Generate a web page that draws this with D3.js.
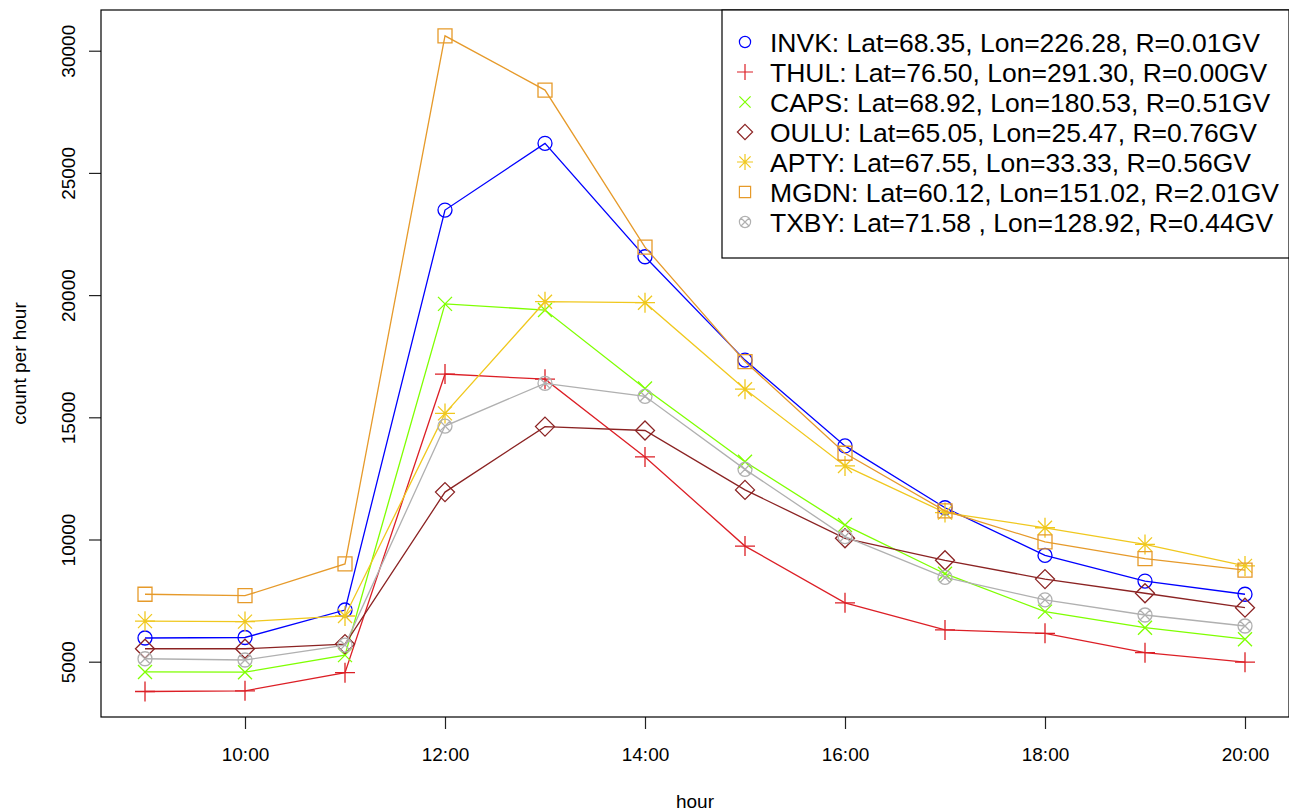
<!DOCTYPE html>
<html>
<head>
<meta charset="utf-8">
<script src="https://cdn.jsdelivr.net/npm/d3@7"></script>
<style>
  html, body { margin: 0; padding: 0; background: #fff; }
  svg { display: block; font-family: "Liberation Sans", Arial, Helvetica, sans-serif; }
</style>
</head>
<body>
<div id="chart-container"></div>
<script>
// hourly count rates, 09:00 .. 20:00
const hours = [9, 10, 11, 12, 13, 14, 15, 16, 17, 18, 19, 20];

const invk = [5970, 5990, 7115, 23480, 26210, 21570, 17340, 13830, 11300, 9350, 8300, 7760];
const thul = [3780, 3810, 4550, 16770, 16560, 13380, 9730, 7410, 6300, 6160, 5370, 4980];
const caps = [4580, 4570, 5270, 19640, 19390, 16180, 13180, 10590, 8600, 7050, 6390, 5920];
const oulu = [5530, 5530, 5720, 11940, 14620, 14460, 12030, 10050, 9150, 8380, 7800, 7210];
const apty = [6660, 6640, 6870, 15160, 19730, 19690, 16150, 13010, 11100, 10480, 9800, 8920];
const mgdn = [7760, 7700, 9000, 30610, 28390, 21960, 17280, 13530, 11170, 9900, 9220, 8750];
const txby = [5120, 5070, 5680, 14640, 16390, 15860, 12870, 10120, 8450, 7530, 6910, 6460];

const stationNames = ["INVK", "THUL", "CAPS", "OULU", "APTY", "MGDN", "TXBY"];
const stationLabels = [
  "INVK: Lat=68.35, Lon=226.28, R=0.01GV",
  "THUL: Lat=76.50, Lon=291.30, R=0.00GV",
  "CAPS: Lat=68.92, Lon=180.53, R=0.51GV",
  "OULU: Lat=65.05, Lon=25.47, R=0.76GV",
  "APTY: Lat=67.55, Lon=33.33, R=0.56GV",
  "MGDN: Lat=60.12, Lon=151.02, R=2.01GV",
  "TXBY: Lat=71.58 , Lon=128.92, R=0.44GV"
];
const stationValues = [invk, thul, caps, oulu, apty, mgdn, txby];

const xTicks = [10, 12, 14, 16, 18, 20];
const yTicks = [5000, 10000, 15000, 20000, 25000, 30000];

{
  const colors = ["#0000ff", "#dc1f26", "#7fff00", "#8b2323", "#f0c81e", "#e69a2a", "#b0b0b0"];
  const shapes = ["circle", "plus", "cross", "diamond", "asterisk", "square", "circlecross"];

  const totalWidth = 1289;
  const totalHeight = 811;
  const plot = { left: 101, top: 10, right: 1289, bottom: 717 };

  const svg = d3.select("#chart-container")
    .append("svg")
    .attr("width", totalWidth)
    .attr("height", totalHeight);

  // scales (range padded 4% each side)
  const xScale = d3.scaleLinear()
    .domain([8.56, 20.44])
    .range([plot.left, plot.right]);
  const yScale = d3.scaleLinear()
    .domain([2737, 31666])
    .range([plot.bottom, plot.top]);

  // marker outline, centred on 0,0
  function markerPath(shape, k) {
    const p = d3.path();
    if (shape === "circle" || shape === "circlecross") {
      const r = 7 * k;
      p.moveTo(r, 0);
      p.arc(0, 0, r, 0, 2 * Math.PI);
      if (shape === "circlecross") {
        const c = r * 0.72;
        p.moveTo(-c, -c); p.lineTo(c, c);
        p.moveTo(-c, c); p.lineTo(c, -c);
      }
    } else if (shape === "plus") {
      const a = 10 * k;
      p.moveTo(-a, 0); p.lineTo(a, 0);
      p.moveTo(0, -a); p.lineTo(0, a);
    } else if (shape === "cross") {
      const a = 7 * k;
      p.moveTo(-a, -a); p.lineTo(a, a);
      p.moveTo(-a, a); p.lineTo(a, -a);
    } else if (shape === "diamond") {
      const a = 9.5 * k;
      p.moveTo(0, -a); p.lineTo(a, 0); p.lineTo(0, a); p.lineTo(-a, 0); p.closePath();
    } else if (shape === "asterisk") {
      const a = 10 * k, c = 7 * k;
      p.moveTo(-a, 0); p.lineTo(a, 0);
      p.moveTo(0, -a); p.lineTo(0, a);
      p.moveTo(-c, -c); p.lineTo(c, c);
      p.moveTo(-c, c); p.lineTo(c, -c);
    } else if (shape === "square") {
      const a = 7 * k;
      p.rect(-a, -a, 2 * a, 2 * a);
    }
    return p.toString();
  }

  // series
  const line = d3.line()
    .x((d, i) => xScale(hours[i]))
    .y(d => yScale(d));

  const series = svg.append("g").attr("id", "series");
  stationValues.forEach((values, s) => {
    const g = series.append("g").attr("class", "station " + stationNames[s]);
    g.append("path")
      .attr("d", line(values))
      .attr("fill", "none")
      .attr("stroke", colors[s])
      .attr("stroke-width", 1.3);
    g.selectAll("path.point")
      .data(values)
      .enter()
      .append("path")
      .attr("class", "point")
      .attr("d", markerPath(shapes[s], 1))
      .attr("transform", (d, i) => `translate(${xScale(hours[i])},${yScale(d)})`)
      .attr("fill", "none")
      .attr("stroke", colors[s])
      .attr("stroke-width", 1.3);
  });

  // x axis
  const xAxis = d3.axisBottom(xScale)
    .tickValues(xTicks)
    .tickSize(12)
    .tickFormat(d => d + ":00");
  const xAxisGroup = svg.append("g")
    .attr("transform", `translate(0,${plot.bottom})`)
    .call(xAxis);
  xAxisGroup.select(".domain").remove();
  xAxisGroup.selectAll("line").attr("stroke", "#222").attr("stroke-width", 1.2);
  xAxisGroup.selectAll("text")
    .attr("y", 44)
    .attr("dy", null)
    .attr("fill", "#000")
    .attr("font-size", 19)
    .attr("font-family", null);

  // y axis
  const yAxis = d3.axisLeft(yScale)
    .tickValues(yTicks)
    .tickSize(12)
    .tickFormat(d3.format("d"));
  const yAxisGroup = svg.append("g")
    .attr("transform", `translate(${plot.left},0)`)
    .call(yAxis);
  yAxisGroup.select(".domain").remove();
  yAxisGroup.selectAll("line").attr("stroke", "#222").attr("stroke-width", 1.2);
  yAxisGroup.selectAll("text")
    .attr("x", null)
    .attr("dy", null)
    .attr("transform", "translate(-26,0) rotate(-90)")
    .attr("text-anchor", "middle")
    .attr("fill", "#000")
    .attr("font-size", 19)
    .attr("font-family", null);

  // axis titles
  svg.append("text")
    .text("hour")
    .attr("x", (plot.left + plot.right) / 2)
    .attr("y", 808)
    .attr("text-anchor", "middle")
    .attr("font-size", 19);
  svg.append("text")
    .text("count per hour")
    .attr("transform", `translate(26,${(plot.top + plot.bottom) / 2}) rotate(-90)`)
    .attr("text-anchor", "middle")
    .attr("font-size", 19);

  // plot frame
  svg.append("rect")
    .attr("x", plot.left)
    .attr("y", plot.top)
    .attr("width", plot.right - plot.left)
    .attr("height", plot.bottom - plot.top)
    .attr("fill", "none")
    .attr("stroke", "#000")
    .attr("stroke-width", 1.2);

  // legend, top right corner
  const legend = svg.append("g").attr("id", "legend");
  legend.append("rect")
    .attr("x", 722)
    .attr("y", plot.top)
    .attr("width", plot.right - 722)
    .attr("height", 248)
    .attr("fill", "#fff")
    .attr("stroke", "#000")
    .attr("stroke-width", 1.2);
  stationLabels.forEach((label, s) => {
    const cy = 42 + s * 30;
    legend.append("path")
      .attr("d", markerPath(shapes[s], 0.8))
      .attr("transform", `translate(745,${cy})`)
      .attr("fill", "none")
      .attr("stroke", colors[s])
      .attr("stroke-width", 1.2);
    legend.append("text")
      .text(label)
      .attr("x", 770)
      .attr("y", cy + 9.5)
      .attr("font-size", 26.5);
  });
}
</script>
</body>
</html>
